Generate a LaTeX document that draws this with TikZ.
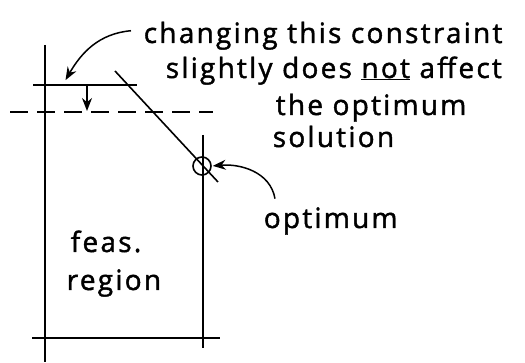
\documentclass[tikz,border=0pt]{standalone}
\usepackage{fontspec}
\setmainfont{Open Sans}[LetterSpace=8,FakeBold=1.5]
\usetikzlibrary{arrows.meta}

\begin{document}
\begin{tikzpicture}[x=1pt,y=-1pt,>={Stealth[length=13pt,width=10pt]},line width=1.6pt,
    note/.style={anchor=base west,inner sep=0pt,font=\fontsize{28}{30}\selectfont},
    pointer/.style={->,line width=1.5pt,shorten >=1pt}]
		\useasboundingbox (0,0) rectangle (525,363);
		
		% Feasible region: two bounds and the bottom bound
		\draw (45,45) -- (45,362);
		\draw (32,338) -- (220,338);
		\draw (203,135) -- (203,348);
		\node[note] (feas) at (70,252) {feas.};
		\node[note] (region) at (66,290) {region};
		
		% Constraint that is moved, and its shifted position
		\draw (33,85) -- (137,85);
		\draw[dash pattern=on 18pt off 9pt] (10,112) -- (213,112);
		\draw[->] (87,85) -- (87,111);
		
		% Active constraint through the optimum
		\coordinate (dtop) at (115,71);
		\coordinate (dbot) at (218,182);
		\draw (dtop) -- (dbot);
		\node[circle,draw,minimum size=18pt,inner sep=0pt] (opt) at (202,166) {};
		
		% Notes
		\node[note] (l1) at (143,43) {changing this constraint};
		\node[note] (l2) at (165,78) {slightly does \underline{not} affect};
		\node[note] (l3) at (275,115) {the optimum};
		\node[note] (l4) at (272,147) {solution};
		\node[note] (optlabel) at (263,228) {optimum};
		
		\coordinate (cpoint) at (65,81);
		\draw[pointer] (l1.west) ++(-12,-5) to[out=185,in=60] (cpoint);
		\draw[pointer] (optlabel.north west) ++(12,-8) to[out=100,in=5] (opt.east);
		
	\end{tikzpicture}
\end{document}
